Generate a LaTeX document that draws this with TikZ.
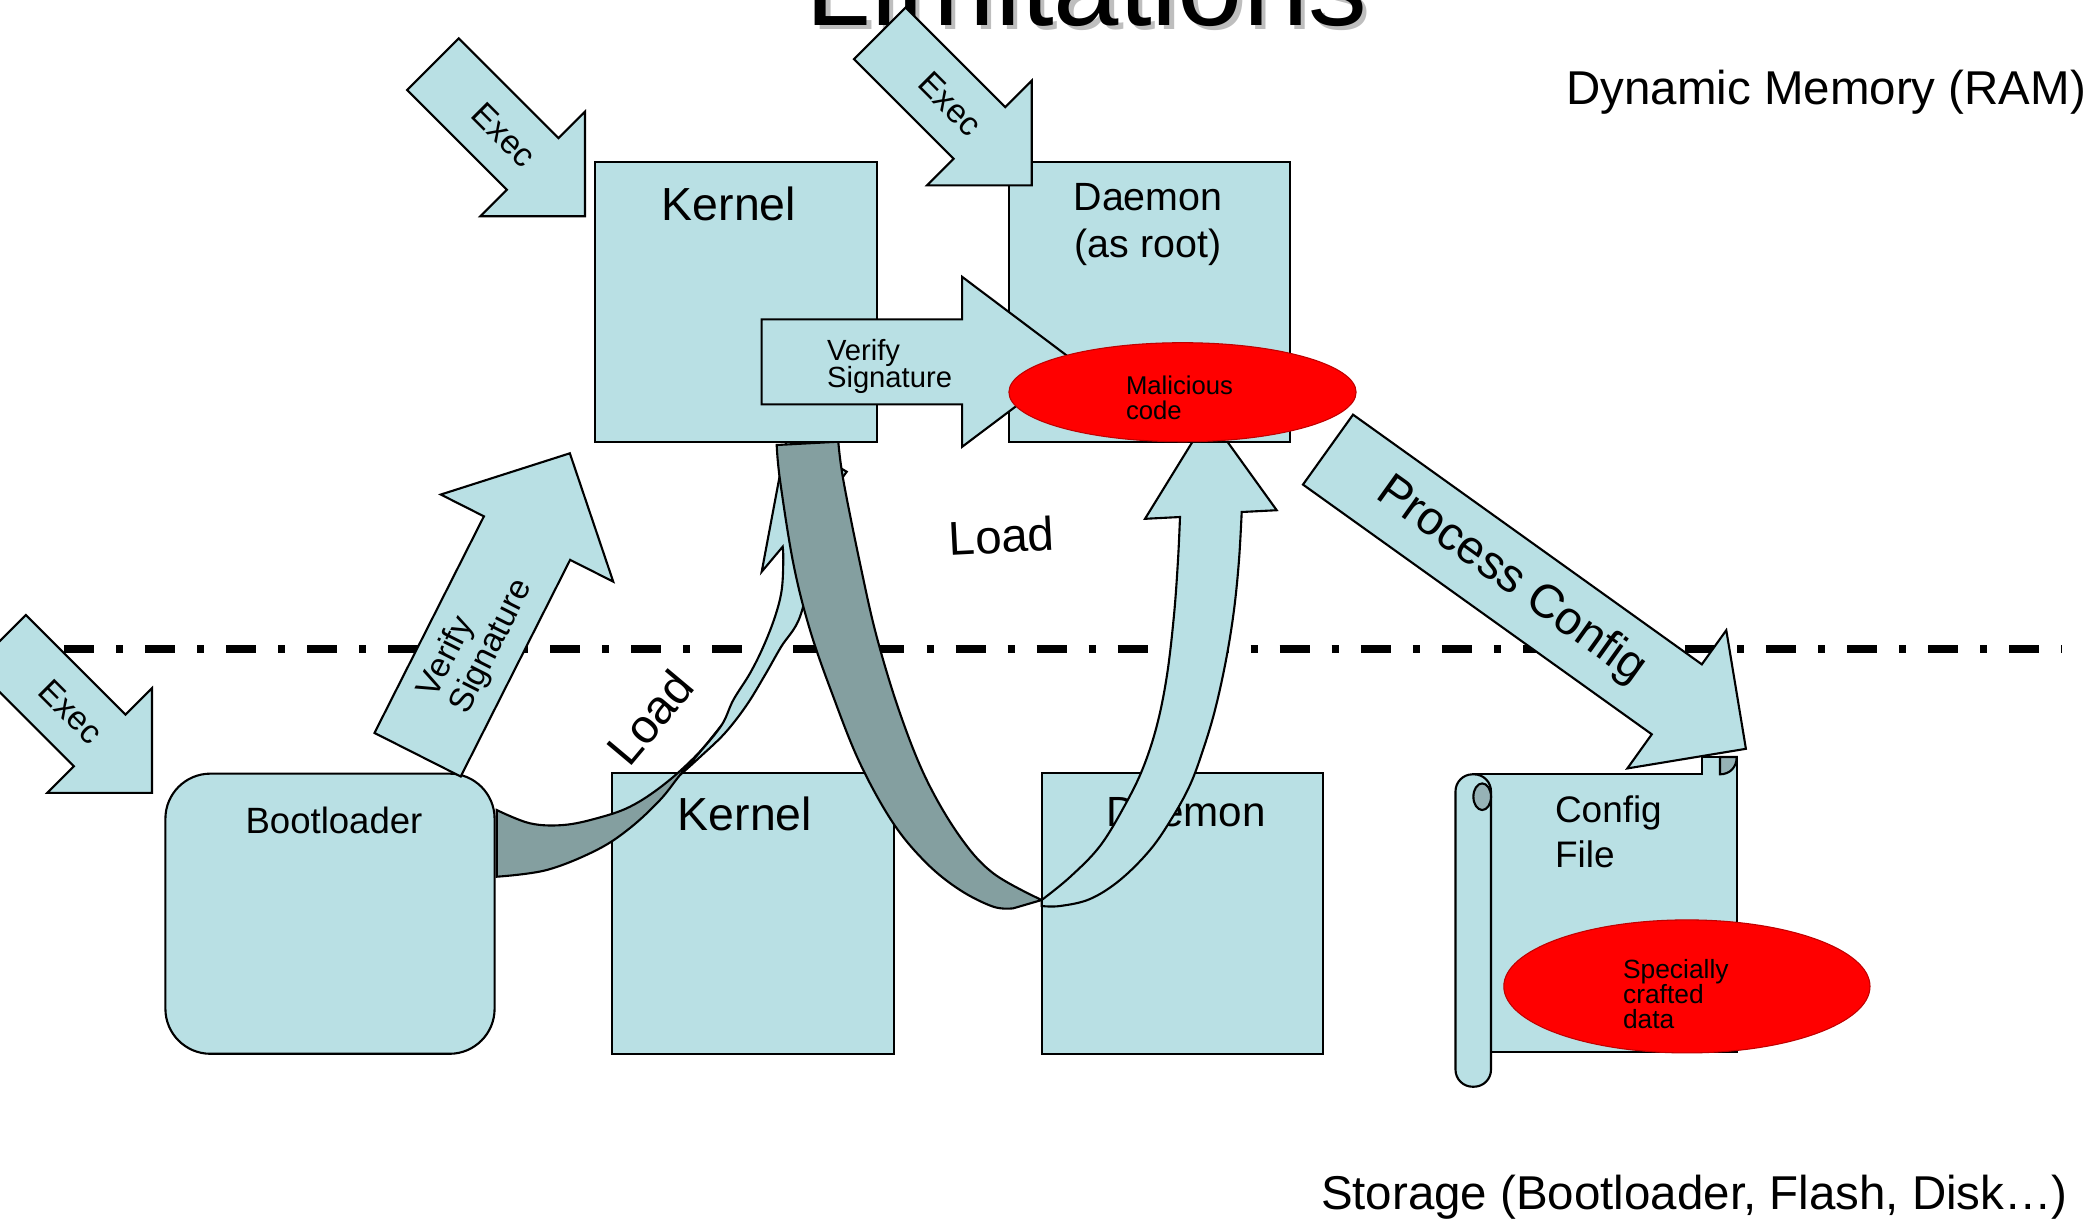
\documentclass[tikz,border=0pt]{standalone}
\usepackage{fontspec}
\setmainfont{Liberation Sans}
\usetikzlibrary{shapes.geometric, calc}
\definecolor{boxblue}{RGB}{185,224,228}
\definecolor{bandgray}{RGB}{132,159,160}
\definecolor{curlgray}{RGB}{150,178,182}
\definecolor{titleshadow}{RGB}{190,190,190}
\newcommand{\fsz}[2]{\fontsize{#1}{#2}\selectfont}
\setlength{\lineskiplimit}{-20pt}
% fat block arrow: tail, angle, length, half shaft, half head, head length
\newcommand{\fatarrow}[6]{%
  \begin{scope}[shift={(#1)}, rotate=#2]
    \draw[blockarrow] (0,-#4) -- ({#3-#6},-#4) -- ({#3-#6},-#5) -- (#3,0)
      -- ({#3-#6},#5) -- ({#3-#6},#4) -- (0,#4) -- cycle;
  \end{scope}}

\begin{document}
\begin{tikzpicture}[
      % GLOBAL CFG
      x=0.01cm, y=-0.01cm,
      line width=0.6pt,
      % Styles
      box/.style={% For memory and storage blocks
        rectangle,
        draw,
        fill=boxblue,
        inner sep=0pt
      },
      bootbox/.style={
        box,
        rounded corners=4.5mm
      },
      lbl/.style={% For texts
        inner sep=0pt
      },
      blob/.style={% For the bad parts
        ellipse,
        draw=red!75!black,
        line width=0.3pt,
        fill=red,
        inner sep=0pt
      },
      blockarrow/.style={draw, fill=boxblue},
      backband/.style={draw, fill=bandgray},
      frontband/.style={draw, fill=boxblue},
      sheet/.style={draw, fill=boxblue},
      curl/.style={draw, fill=curlgray},
      memline/.style={% RAM / storage border
        line width=2.3pt,
        dash pattern=on 3mm off 2.2mm on 0.7mm off 2.2mm
      }
      ]
      \useasboundingbox (0,0) rectangle (2099,1220);

      % Title, cut by the page
      \node[lbl, font=\fsz{33.4}{40}, text=titleshadow, anchor=base] (titleshadow) at (1091,29) {Limitations};
      \node[lbl, font=\fsz{33.4}{40}, anchor=base] (title) at (1086.5,25) {Limitations};

      \node[lbl, font=\fsz{13.5}{16}, anchor=base east] (ram) at (2087,104) {Dynamic Memory (RAM)};
      \node[lbl, font=\fsz{13.5}{16}, anchor=base west] (storage) at (1320,1209) {Storage (Bootloader, Flash, Disk…)};

      \coordinate (borderL) at (64,649);
      \coordinate (borderR) at (2062,649);
      \draw[memline] (borderL) -- (borderR);

      % Storage side
      \node[bootbox, minimum width=3.29cm, minimum height=2.80cm] (bootloader) at (330,913.7) {};
      \node[lbl, font=\fsz{10.4}{12}, anchor=base] (bootloaderlbl) at (334,833.3) {Bootloader};
      \node[box, minimum width=2.815cm, minimum height=2.813cm] (kernelS) at (752.9,913.4) {};
      \node[lbl, font=\fsz{13.2}{16}, anchor=base] (kernelSlbl) at (745,830.7) {Kernel};
      \node[box, minimum width=2.816cm, minimum height=2.813cm] (daemonS) at (1182.5,913.4) {};
      \node[lbl, font=\fsz{12}{14}, anchor=base] (daemonSlbl) at (1186,826) {Daemon};

      % Config file scroll
      \draw[sheet] (1473,774.3) -- (1701.7,774.3) -- (1701.7,757) -- (1736.7,757)
        -- (1736.7,1052.3) -- (1473,1052.3) -- cycle;
      \draw[curl] (1720,757) -- (1720,774.3) .. controls (1730,774.3) and (1736.7,767) .. (1736.7,757) -- cycle;
      \draw[sheet, rounded corners=1.7mm] (1455.5,774.3) rectangle (1491,1086.7);
      \draw[curl] (1482.2,796.7) ellipse [x radius=0.088cm, y radius=0.133cm];
      \node[lbl, font=\fsz{10.5}{12.8}, align=left, anchor=north west] (configlbl) at (1554,795) {Config\\File};

      % Load: bootloader -> kernel
      \draw[backband] plot[smooth, tension=0.6] coordinates {(496.7,810) (530,823.3) (563.3,825) (596.7,818.3) (630,806.7) (663.3,785) (696.7,755) (721.7,725)}
        -- plot[smooth, tension=0.6] coordinates {(721.7,725) (700,752) (680,775) (660,800) (630,828) (596.7,850) (546.7,870) (496.7,876.7)} -- cycle;
      \draw[frontband] plot[smooth, tension=0.6] coordinates {(680,775) (700,752) (721.7,725) (733.3,700) (750,673.3) (763.3,646.7) (775,616.7) (781.7,590) (783.3,560) (782.7,546.7)}
        -- (761.7,571.7) -- (787,437) -- (846.7,471.7) -- (826,500)
        -- plot[smooth, tension=0.6] coordinates {(826,500) (813,560) (800,616.7) (781,647) (765,675) (746.7,705) (725,733) (700,757) (680,775)} -- cycle;

      % Load: kernel -> daemon
      \draw[backband] (776.7,445) -- (838.3,441.7)
        -- plot[smooth, tension=0.6] coordinates {(838.3,441.7) (843.3,480) (860,563.3) (876.7,636.7) (900,713.3) (926.7,780) (960,836.7) (993.3,873.3) (1041.7,900)}
        -- (1013.3,908.3)
        -- plot[smooth, tension=0.6] coordinates {(1013.3,908.3) (993.3,906.7) (960,890) (926.7,863.3) (893.3,823.3) (860,763.3) (833.3,696.7) (810,630) (793.3,563.3) (780,480) (776.7,445)} -- cycle;
      \draw[frontband] plot[smooth, tension=0.6] coordinates {(1041.7,900) (1070,877) (1100,846) (1125,805) (1143,768) (1157,725) (1167,675) (1174,615) (1178,560) (1180,517)}
        -- (1145,518.8) -- (1208.6,415.6) -- (1276.7,510.2) -- (1241.7,512)
        -- plot[smooth, tension=0.6] coordinates {(1241.7,512) (1239,560) (1234,610) (1226,660) (1215,710) (1203,750) (1190,785) (1172,818) (1150,850) (1120,880) (1090,899) (1060,906) (1041.7,906)} -- cycle;

      % RAM side
      \node[box, minimum width=2.815cm, minimum height=2.80cm] (kernelM) at (735.8,302) {};
      \node[lbl, font=\fsz{13.2}{16}, anchor=base] (kernelMlbl) at (729,220) {Kernel};
      \node[box, minimum width=2.81cm, minimum height=2.80cm] (daemonM) at (1149.5,302) {};
      \node[lbl, font=\fsz{11.2}{13.4}, align=center, anchor=north] (daemonMlbl) at (1148,182) {Daemon\\(as root)};

      % Exec arrows
      \coordinate (execKtail) at (433,64.2);
      \coordinate (execDtail) at (879.7,33.3);
      \coordinate (execBtail) at (0,640.8);
      \fatarrow{execKtail}{-45}{215}{36.5}{74}{74}
      \node[lbl, font=\fsz{9.5}{11}, rotate=-45] (execKlbl) at ($(execKtail)+(-45:1cm)$) {Exec};
      \fatarrow{execDtail}{-45}{215}{36.5}{74}{74}
      \node[lbl, font=\fsz{9.5}{11}, rotate=-45] (execDlbl) at ($(execDtail)+(-45:1cm)$) {Exec};
      \fatarrow{execBtail}{-45}{215}{36.5}{74}{74}
      \node[lbl, font=\fsz{9.5}{11}, rotate=-45] (execBlbl) at ($(execBtail)+(-45:1cm)$) {Exec};

      % Verify arrows
      \coordinate (verifyBtail) at (417.6,754.7);
      \fatarrow{verifyBtail}{63.2}{337.7}{48.3}{96.6}{95}
      \node[lbl, font=\fsz{9.6}{10.1}, align=left, rotate=63.2] (verifyBlbl) at ($(verifyBtail)+(63.2:1.30cm)$) {Verify\\Signature};
      \coordinate (verifyKtail) at (761.6,361.8);
      \fatarrow{verifyKtail}{0}{313.5}{42.5}{85}{113}
      \node[lbl, font=\fsz{8.3}{7.8}, align=left, anchor=north west] (verifyKlbl) at (826,338) {Verify\\Signature};

      \node[blob, minimum width=3.47cm, minimum height=0.99cm] (malware) at (1182.5,392.2) {};
      \node[lbl, font=\fsz{7.3}{7.1}, align=left, anchor=north west] (malwarelbl) at (1125,374.5) {Malicious\\code};

      % Process config
      \coordinate (processtail) at (1328,449.6);
      \fatarrow{processtail}{-35.6}{514}{43}{85}{85}
      \node[lbl, font=\fsz{13.4}{16}, rotate=-35.6] (processlbl) at ($(processtail)+(-35.6:2.25cm)$) {Process Config};

      \node[blob, minimum width=3.66cm, minimum height=1.33cm] (evildata) at (1686.9,986.4) {};
      \node[lbl, font=\fsz{7.5}{7.2}, align=left, anchor=north west] (evildatalbl) at (1622,958) {Specially\\crafted\\data};

      % Load labels
      \node[lbl, font=\fsz{13.5}{16}, rotate=50] (loadBlbl) at (650,717.5) {Load};
      \node[lbl, font=\fsz{13.5}{16}, rotate=3] (loadKlbl) at (1001.7,536) {Load};
\end{tikzpicture}
\end{document}
